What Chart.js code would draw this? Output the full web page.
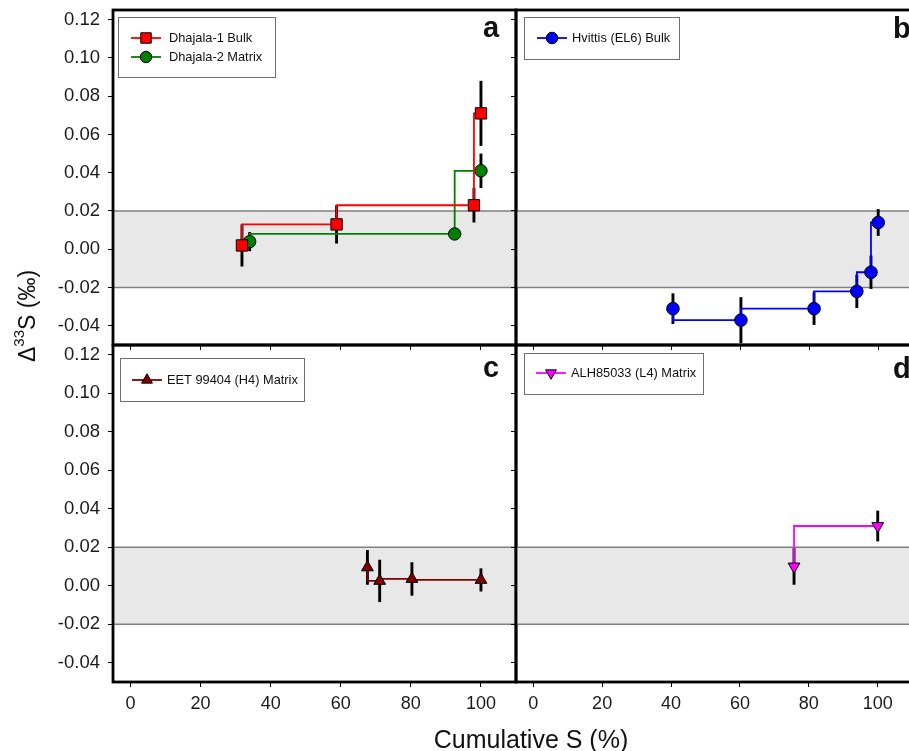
<!DOCTYPE html>
<html>
<head>
<meta charset="utf-8">
<script src="https://cdn.jsdelivr.net/npm/chart.js@4.4.1/dist/chart.umd.min.js"></script>
<style>
  html, body { margin: 0; padding: 0; background: #fff; overflow: hidden; }
  #wrap { position: relative; width: 920px; height: 751px; }
  #wrap canvas { position: absolute; left: 0; top: 0; }
  .xtitle {
    position: absolute; left: 381px; top: 726px; width: 300px;
    text-align: center; font: 25px Arial, "Liberation Sans", sans-serif;
    line-height: 26px; color: #111;
  }
  .ytitle {
    position: absolute; left: -73px; top: 302px; width: 200px; height: 28px;
    text-align: center; font: 23px Arial, "Liberation Sans", sans-serif;
    line-height: 28px; color: #111; transform: rotate(-90deg);
  }
  .ytitle sup { font-size: 15px; line-height: 0; position: relative; top: -2px; }
</style>
</head>
<body>
<div id="wrap">
  <canvas id="panelA" width="920" height="751"></canvas>
  <canvas id="panelB" width="920" height="751"></canvas>
  <canvas id="panelC" width="920" height="751"></canvas>
  <canvas id="panelD" width="920" height="751"></canvas>
  <div class="ytitle">Δ<sup>33</sup>S (‰)</div>
  <div class="xtitle">Cumulative S (%)</div>
</div>

<script>
// axis ticks
const xTicks = [0, 20, 40, 60, 80, 100];
const yTicks = [-0.04, -0.02, 0.00, 0.02, 0.04, 0.06, 0.08, 0.10, 0.12];

// a: Dhajala
const dhajala1X = [31.8, 58.8, 98.0, 100.0];
const dhajala1Y = [0.002, 0.013, 0.023, 0.071];
const dhajala1Err = [0.011, 0.010, 0.009, 0.017];

const dhajala2X = [34.0, 92.5, 100.0];
const dhajala2Y = [0.004, 0.008, 0.041];
const dhajala2Err = [0.005, 0.003, 0.009];

// b: Hvittis
const hvittisX = [40.5, 60.2, 81.4, 93.8, 97.9, 100.0];
const hvittisY = [-0.031, -0.037, -0.031, -0.022, -0.012, 0.014];
const hvittisErr = [0.008, 0.012, 0.0085, 0.0087, 0.0087, 0.007];

// c: EET 99404
const eetX = [67.6, 71.1, 80.3, 100.0];
const eetY = [0.0095, 0.0025, 0.0035, 0.003];
const eetErr = [0.009, 0.011, 0.0087, 0.006];

// d: ALH85033
const alhX = [75.7, 100.0];
const alhY = [0.010, 0.031];
const alhErr = [0.0095, 0.008];

const FONT = 'Arial, "Liberation Sans", sans-serif';
const Y_AXIS_W = 100;
const X_AXIS_H = 40;

function pts(xs, ys) {
    return xs.map((x, i) => ({ x: x, y: ys[i] }));
}

function series(label, xs, ys, errs, color, fill, style, radius, rotation) {
    return {
        label: label,
        data: pts(xs, ys),
        errors: errs,
        showLine: true,
        stepped: 'after',
        borderColor: color,
        borderWidth: 1.8,
        pointStyle: style,
        pointRadius: radius,
        pointRotation: rotation || 0,
        pointBackgroundColor: fill,
        pointBorderColor: '#000',
        pointBorderWidth: 1
    };
}

// shaded band, error bars, frame, legend box and panel letter
function decor(p) {
    return {
        id: 'decor',
        beforeDatasetsDraw(chart) {
            const ctx = chart.ctx, a = chart.chartArea;
            const ys = chart.scales.y, xs = chart.scales.x;
            const top = ys.getPixelForValue(0.02), bot = ys.getPixelForValue(-0.02);
            ctx.save();
            ctx.fillStyle = '#e8e8e8';
            ctx.fillRect(a.left, top, a.right - a.left, bot - top);
            ctx.strokeStyle = '#808080';
            ctx.lineWidth = 1.4;
            ctx.beginPath();
            ctx.moveTo(a.left, top); ctx.lineTo(a.right, top);
            ctx.moveTo(a.left, bot); ctx.lineTo(a.right, bot);
            ctx.stroke();

            ctx.strokeStyle = '#000';
            ctx.lineWidth = 2.9;
            chart.data.datasets.forEach(ds => {
                ds.data.forEach((pt, i) => {
                    const px = xs.getPixelForValue(pt.x);
                    ctx.beginPath();
                    ctx.moveTo(px, ys.getPixelForValue(pt.y + ds.errors[i]));
                    ctx.lineTo(px, ys.getPixelForValue(pt.y - ds.errors[i]));
                    ctx.stroke();
                });
            });
            ctx.restore();
        },
        afterDraw(chart) {
            const ctx = chart.ctx, a = chart.chartArea;
            ctx.save();
            ctx.strokeStyle = '#000';
            ctx.lineWidth = 2.8;
            ctx.strokeRect(a.left, a.top, a.right - a.left, a.bottom - a.top);

            const lg = p.legend;
            ctx.fillStyle = '#fff';
            ctx.fillRect(a.left + lg.x, a.top + lg.y, lg.w, lg.h);
            ctx.strokeStyle = '#707070';
            ctx.lineWidth = 1;
            ctx.strokeRect(a.left + lg.x + 0.5, a.top + lg.y + 0.5, lg.w, lg.h);

            chart.data.datasets.forEach((ds, i) => {
                const ry = a.top + lg.rows[i];
                ctx.strokeStyle = ds.borderColor;
                ctx.lineWidth = 1.8;
                ctx.beginPath();
                ctx.moveTo(a.left + lg.lineX, ry);
                ctx.lineTo(a.left + lg.lineX + 30, ry);
                ctx.stroke();
                ctx.fillStyle = ds.pointBackgroundColor;
                ctx.strokeStyle = '#000';
                ctx.lineWidth = 1;
                Chart.helpers.drawPoint(ctx, {
                    pointStyle: ds.pointStyle,
                    radius: ds.pointRadius * 0.92,
                    rotation: ds.pointRotation,
                    borderWidth: 1
                }, a.left + lg.lineX + 15, ry);
                ctx.fillStyle = '#111';
                ctx.font = '12.8px ' + FONT;
                ctx.textBaseline = 'middle';
                ctx.fillText(ds.label, a.left + lg.textX, ry + 0.5);
            });

            ctx.fillStyle = '#111';
            ctx.font = 'bold 29px ' + FONT;
            ctx.textBaseline = 'alphabetic';
            ctx.fillText(p.letter, a.left + p.letterX, a.top + p.letterY);
            ctx.restore();
        }
    };
}

function makePanel(id, p) {
    new Chart(document.getElementById(id), {
        type: 'scatter',
        data: { datasets: p.datasets },
        plugins: [decor(p)],
        options: {
            responsive: false,
            animation: false,
            devicePixelRatio: 1,
            layout: {
                padding: {
                    left: p.left - Y_AXIS_W,
                    top: p.top,
                    right: 920 - p.right,
                    bottom: 751 - p.bottom - X_AXIS_H
                }
            },
            plugins: { legend: { display: false }, tooltip: { enabled: false } },
            scales: {
                x: {
                    type: 'linear',
                    min: -5,
                    max: 110,
                    afterBuildTicks: s => { s.ticks = xTicks.map(v => ({ value: v })); },
                    afterFit: s => {
                        s.height = X_AXIS_H;
                        s.paddingLeft = 0; s.paddingRight = 0;
                    },
                    grid: { drawOnChartArea: false, drawTicks: true, tickLength: 5, color: '#000', lineWidth: 1 },
                    border: { display: false },
                    ticks: {
                        display: p.xLabels,
                        padding: 6,
                        color: '#1a1a1a',
                        font: { family: FONT, size: 18 },
                        maxRotation: 0
                    }
                },
                y: {
                    type: 'linear',
                    min: -0.05,
                    max: 0.125,
                    afterBuildTicks: s => { s.ticks = yTicks.map(v => ({ value: v })); },
                    afterFit: s => {
                        s.width = Y_AXIS_W;
                        s.paddingTop = 0; s.paddingBottom = 0;
                    },
                    grid: { drawOnChartArea: false, drawTicks: true, tickLength: 5, color: '#000', lineWidth: 1 },
                    border: { display: false },
                    ticks: {
                        display: p.yLabels,
                        padding: 8,
                        color: '#1a1a1a',
                        font: { family: FONT, size: 18.5 },
                        callback: v => (Math.abs(v) < 1e-9 ? 0 : v).toFixed(2)
                    }
                }
            }
        }
    });
}

makePanel('panelA', {
    left: 113, top: 10, right: 516, bottom: 345,
    xLabels: false, yLabels: true,
    letter: 'a', letterX: 370, letterY: 27,
    legend: { x: 5, y: 7, w: 157, h: 60, rows: [28, 47], lineX: 18, textX: 56 },
    datasets: [
        series('Dhajala-1 Bulk', dhajala1X, dhajala1Y, dhajala1Err, '#ff0000', '#ff0000', 'rect', 8),
        series('Dhajala-2 Matrix', dhajala2X, dhajala2Y, dhajala2Err, '#008000', '#008000', 'circle', 6.2)
    ]
});

makePanel('panelB', {
    left: 516, top: 10, right: 919, bottom: 345,
    xLabels: false, yLabels: false,
    letter: 'b', letterX: 377, letterY: 28,
    legend: { x: 8, y: 7, w: 155, h: 42, rows: [28], lineX: 21, textX: 56 },
    datasets: [
        series('Hvittis (EL6) Bulk', hvittisX, hvittisY, hvittisErr, '#0000ff', '#0000ff', 'circle', 6.3)
    ]
});

makePanel('panelC', {
    left: 113, top: 345, right: 516, bottom: 682,
    xLabels: true, yLabels: true,
    letter: 'c', letterX: 370, letterY: 32,
    legend: { x: 7, y: 13, w: 184, h: 43, rows: [35], lineX: 19, textX: 54 },
    datasets: [
        series('EET 99404 (H4) Matrix', eetX, eetY, eetErr, '#800000', '#800000', 'triangle', 6.8)
    ]
});

makePanel('panelD', {
    left: 516, top: 345, right: 919, bottom: 682,
    xLabels: true, yLabels: false,
    letter: 'd', letterX: 377, letterY: 33,
    legend: { x: 8, y: 8, w: 179, h: 41, rows: [28], lineX: 20, textX: 55 },
    datasets: [
        series('ALH85033 (L4) Matrix', alhX, alhY, alhErr, '#ff00ff', '#ff00ff', 'triangle', 6.8, 180)
    ]
});
</script>
</body>
</html>
